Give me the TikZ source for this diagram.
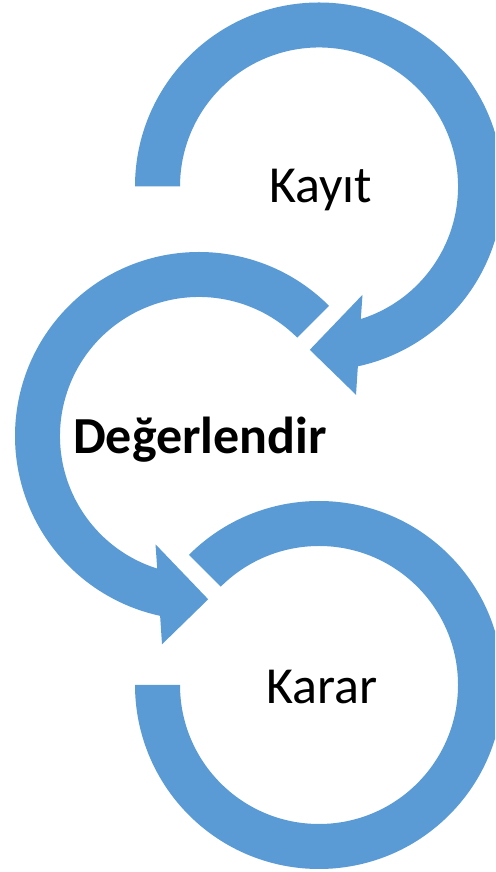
\documentclass[tikz,border=0pt]{standalone}
\usepackage{fontspec}
\setmainfont{Carlito}
\usetikzlibrary{calc}
\definecolor{accent}{HTML}{5B9BD5}
\begin{document}
\begin{tikzpicture}[x=1pt,y=1pt,
  band/.style={fill=accent,draw=none},
  lbl/.style={font=\fontsize{52}{60}\selectfont,inner sep=0pt,anchor=base,text=black},
  lblbold/.style={font=\fontsize{52}{60}\selectfont\bfseries,inner sep=0pt,anchor=base,text=black}]
\useasboundingbox (0,0) rectangle (495,872);
\clip (0,0) rectangle (495,872);
\coordinate (c1) at (319,685.5);
\coordinate (c2) at (199,436);
\coordinate (c3) at (319,187);
% top arc with arrowhead
\fill[band] ($(c1)+(180:184)$) arc[start angle=180,end angle=-77.8,radius=184]
  -- ($(c1)+(37,-208.3)$) -- ($(c1)+(-9.2,-163.3)$) -- ($(c1)+(43.5,-108.3)$)
  -- ($(c1)+(-72.5:139)$) arc[start angle=-72.5,end angle=180,radius=139] -- cycle;
% middle arc with arrowhead
\fill[band] ($(c2)+(45:184)$) arc[start angle=45,end angle=257.8,radius=184]
  -- ($(c2)+(-37,-208.3)$) -- ($(c2)+(9.2,-163.3)$) -- ($(c2)+(-43.5,-108.3)$)
  -- ($(c2)+(252.5:139)$) arc[start angle=252.5,end angle=45,radius=139] -- cycle;
% bottom arc
\fill[band] ($(c3)+(135:184)$) arc[start angle=135,end angle=-180,radius=184]
  -- ($(c3)+(180:139)$) arc[start angle=-180,end angle=135,radius=139] -- cycle;
% labels
\node[lbl] (kayit) at (320.5,669.3) {Kayıt};
\node[lblbold] (deger) at (200,418.7) {Değerlendir};
\node[lbl] (karar) at (321.7,168.7) {Karar};
\end{tikzpicture}
\end{document}
